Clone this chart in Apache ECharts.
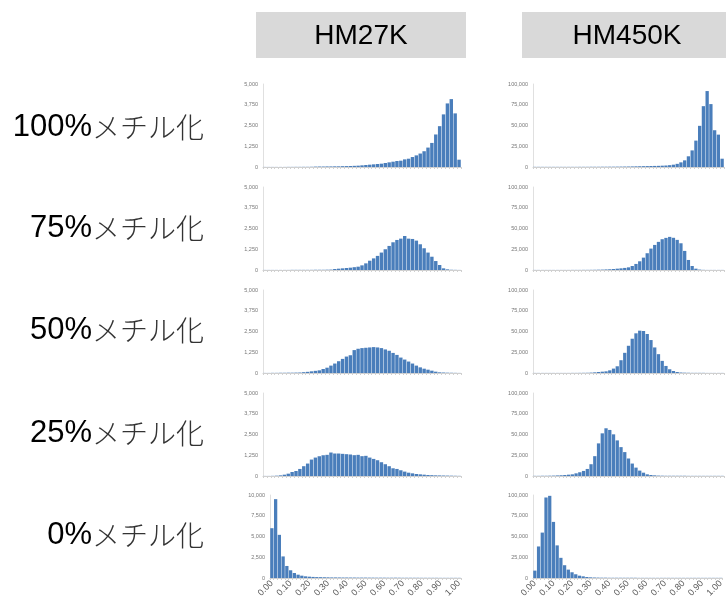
<!DOCTYPE html>
<html lang="ja">
<head>
<meta charset="UTF-8">
<title>メチル化レベル分布 HM27K / HM450K</title>
<script src="https://cdn.jsdelivr.net/npm/echarts@6/dist/echarts.min.js"></script>
<style>
  html, body { margin: 0; padding: 0; background: #fff; }
  #chart { width: 726px; height: 606px; }
</style>
</head>
<body>
<div id="chart"></div>
<script>
// beta value bins (0.02 wide)
var bins = ['0.00','0.02','0.04','0.06','0.08','0.10','0.12','0.14','0.16','0.18',
            '0.20','0.22','0.24','0.26','0.28','0.30','0.32','0.34','0.36','0.38',
            '0.40','0.42','0.44','0.46','0.48','0.50','0.52','0.54','0.56','0.58',
            '0.60','0.62','0.64','0.66','0.68','0.70','0.72','0.74','0.76','0.78',
            '0.80','0.82','0.84','0.86','0.88','0.90','0.92','0.94','0.96','0.98','1.00'];

var columns = ['HM27K', 'HM450K'];
var rowLabels = ['100%', '75%', '50%', '25%', '0%'];

// HM27K counts
var hm27_100 = [5,5,5,5,5,5,8,8,10,10,12,12,15,25,30,30,35,35,40,40,
                50,55,60,70,80,100,120,140,160,180,200,240,280,320,360,380,460,500,600,700,
                810,950,1170,1450,1960,2460,3170,3830,4090,3230,440];
var hm27_75 = [5,5,5,5,5,5,5,10,10,10,10,10,10,15,15,15,20,25,60,80,
               100,120,140,170,200,280,400,560,700,850,1050,1250,1450,1670,1810,1890,2050,1890,1870,1770,
               1550,1310,1050,800,540,300,100,40,15,10,5];
var hm27_50 = [5,5,10,10,15,15,20,20,25,30,50,70,100,130,160,240,320,445,570,710,
               850,990,1070,1380,1460,1500,1520,1540,1560,1540,1500,1420,1340,1210,1090,930,810,690,570,445,
               340,260,200,140,80,40,30,20,15,10,5];
var hm27_25 = [5,5,10,20,40,80,140,240,300,425,590,750,990,1110,1190,1250,1275,1415,1355,1355,
               1335,1315,1295,1255,1275,1195,1215,1110,1030,950,830,710,590,465,425,345,265,200,160,120,
               100,80,60,50,40,35,30,25,20,15,10];
var hm27_0 = [6000,9500,5200,2600,1450,930,600,400,280,200,160,130,110,100,90,80,70,70,65,60,
              60,55,55,50,50,50,45,45,40,40,40,35,35,40,35,30,30,30,30,30,
              25,25,25,25,25,20,20,20,20,20,20];

// HM450K counts
var hm450_100 = [200,200,200,200,200,200,200,200,200,200,200,200,250,250,250,300,300,300,350,350,
                 400,400,450,500,550,600,700,800,900,1000,1100,1200,1300,1400,1600,1800,2200,2800,3800,5600,
                 8000,12900,20000,31800,49600,73300,91500,75800,44300,39000,10000];
var hm450_75 = [100,100,100,100,100,100,100,100,100,100,150,150,150,200,200,250,300,400,500,700,
                900,1200,1600,2000,2500,3200,4800,7300,10500,14900,20200,25800,30200,33900,37100,38700,39900,38800,36300,32200,
                23000,12100,4800,1600,500,200,100,100,100,100,100];
var hm450_50 = [100,100,100,100,100,100,100,100,100,100,150,150,200,250,300,500,800,1200,1600,2000,
                3200,5300,8100,15400,24300,32800,41300,47800,51000,50600,47000,39700,30800,22700,14600,8500,4500,2400,1200,600,
                400,300,200,200,200,200,100,100,100,100,100];
var hm450_25 = [200,200,300,300,400,500,700,900,1200,1600,2000,3200,4500,6100,8500,14200,23900,39300,51400,57500,
                55500,50200,42900,34800,28800,21100,15000,10100,6500,4000,2000,1200,800,500,400,300,300,300,300,300,
                300,200,200,200,200,200,200,200,200,200,200];
var hm450_0 = [8900,38000,54700,97000,99000,67600,39300,24300,15400,10100,6900,4500,2800,2000,1200,800,600,500,400,400,
               300,300,300,300,300,300,300,300,200,200,200,200,200,200,200,200,200,200,200,200,
               200,200,200,200,200,200,200,200,200,200,200];

var panels = [
  [hm27_100, hm450_100],
  [hm27_75,  hm450_75],
  [hm27_50,  hm450_50],
  [hm27_25,  hm450_25],
  [hm27_0,   hm450_0]
];
var yMax = [[5000, 100000], [5000, 100000], [5000, 100000], [5000, 100000], [10000, 100000]];

var chart = echarts.init(document.getElementById('chart'));

var rowTops = [84, 187, 290, 393, 495];
var grids = [], xAxes = [], yAxes = [], series = [];

function fmt(v) {
  return String(v).replace(/\B(?=(\d{3})+(?!\d))/g, ',');
}

panels.forEach(function (row, r) {
  row.forEach(function (data, c) {
    var k = grids.length;
    var left = c === 0 ? (r === 4 ? 270 : 263) : 533;
    var width = c === 0 ? 461 - left : 191;
    grids.push({ left: left, top: rowTops[r], width: width, height: 83 });
    xAxes.push({
      type: 'category', gridIndex: k, data: bins,
      axisLine: { lineStyle: { color: '#d0d0d0', width: 1 } },
      axisTick: { show: true, interval: 0, length: 2, lineStyle: { color: '#d0d0d0' } },
      axisLabel: {
        show: r === 4, interval: 4, rotate: 45, fontSize: 9, margin: 4,
        color: '#595959', fontFamily: 'Liberation Sans'
      }
    });
    yAxes.push({
      type: 'value', gridIndex: k, min: 0, max: yMax[r][c], interval: yMax[r][c] / 4,
      splitLine: { show: false },
      axisLine: { show: true, lineStyle: { color: '#e0e0e0' } },
      axisTick: { show: false },
      axisLabel: { fontSize: 5.5, margin: 5, color: '#777', fontFamily: 'Liberation Sans', formatter: fmt }
    });
    series.push({
      type: 'bar', xAxisIndex: k, yAxisIndex: k, data: data,
      barCategoryGap: '12%', silent: true,
      itemStyle: { color: '#4a7ebb' }
    });
  });
});

var graphics = [];
var boxLeft = [256, 522];
columns.forEach(function (name, c) {
  graphics.push({ type: 'rect', shape: { x: boxLeft[c], y: 12, width: 210, height: 46 }, style: { fill: '#d9d9d9' } });
  graphics.push({
    type: 'text', x: boxLeft[c] + 105, y: 36,
    style: { text: name, fill: '#000', font: '28px "Liberation Sans", Arial', align: 'center', verticalAlign: 'middle' }
  });
});
var labelY = [127, 228, 330, 433, 535];
rowLabels.forEach(function (lab, r) {
  graphics.push({
    type: 'text', x: 204, y: labelY[r],
    style: {
      text: '{n|' + lab + '}{j|メチル化}',
      align: 'right', verticalAlign: 'middle',
      rich: {
        n: { fontSize: 31, fontFamily: 'Liberation Sans', fill: '#000', color: '#000' },
        j: { fontSize: 28, fontFamily: 'Noto Sans CJK JP', fontWeight: 300, fill: '#333', color: '#333' }
      }
    }
  });
});

chart.setOption({
  animation: false,
  grid: grids,
  xAxis: xAxes,
  yAxis: yAxes,
  series: series,
  graphic: graphics
});
</script>
</body>
</html>
